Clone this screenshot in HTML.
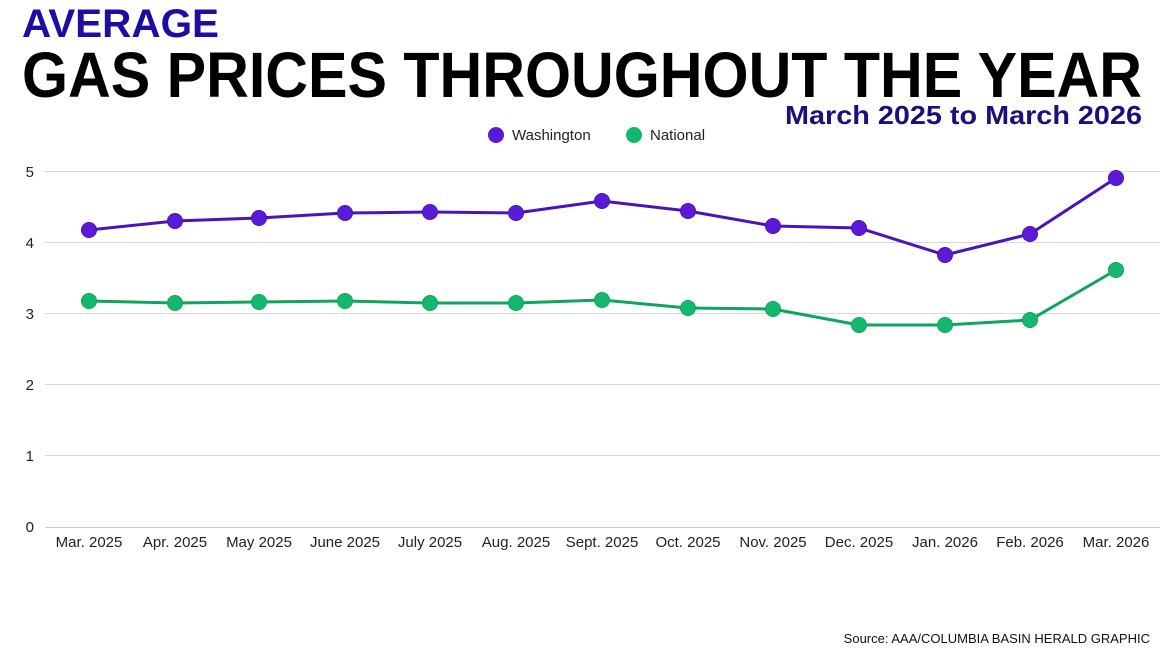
<!DOCTYPE html>
<html><head><meta charset="utf-8"><style>
html,body{margin:0;padding:0;background:#fff;}
svg{display:block;}
</style></head><body>
<svg width="1170" height="658" viewBox="0 0 1170 658" xmlns="http://www.w3.org/2000/svg" font-family="Liberation Sans, Arial, sans-serif">
<text x="22" y="37" font-size="40" font-weight="bold" fill="#1d0ea3" textLength="197" lengthAdjust="spacingAndGlyphs">AVERAGE</text>
<text x="22" y="97" font-size="64" font-weight="bold" fill="#000" textLength="1120" lengthAdjust="spacingAndGlyphs">GAS PRICES THROUGHOUT THE YEAR</text>
<text x="1142" y="124" font-size="26" font-weight="bold" fill="#1d0e7e" text-anchor="end" textLength="357" lengthAdjust="spacingAndGlyphs">March 2025 to March 2026</text>
<circle cx="496" cy="135" r="8" fill="#5b1ad8"/>
<text x="512" y="140" font-size="15" fill="#222">Washington</text>
<circle cx="634" cy="135" r="8" fill="#12b96c"/>
<text x="650" y="140" font-size="15" fill="#222">National</text>
<g stroke="#d9d9d9" stroke-width="1">
<line x1="45" x2="1160" y1="171.5" y2="171.5"/><line x1="45" x2="1160" y1="242.5" y2="242.5"/>
<line x1="45" x2="1160" y1="313.5" y2="313.5"/><line x1="45" x2="1160" y1="384.5" y2="384.5"/>
<line x1="45" x2="1160" y1="455.5" y2="455.5"/><line x1="45" x2="1160" y1="527.5" y2="527.5" stroke="#ccc"/>
</g>
<g font-size="15" fill="#222" text-anchor="end">
<text x="34" y="177">5</text><text x="34" y="248">4</text><text x="34" y="319">3</text>
<text x="34" y="390">2</text><text x="34" y="461">1</text><text x="34" y="532">0</text>
</g>
<g font-size="15" fill="#222" text-anchor="middle">
<text x="89" y="547">Mar. 2025</text><text x="175" y="547">Apr. 2025</text><text x="259" y="547">May 2025</text>
<text x="345" y="547">June 2025</text><text x="430" y="547">July 2025</text><text x="516" y="547">Aug. 2025</text>
<text x="602" y="547">Sept. 2025</text><text x="688" y="547">Oct. 2025</text><text x="773" y="547">Nov. 2025</text>
<text x="859" y="547">Dec. 2025</text><text x="945" y="547">Jan. 2026</text><text x="1030" y="547">Feb. 2026</text>
<text x="1116" y="547">Mar. 2026</text>
</g>
<polyline fill="none" stroke="#4a14b8" stroke-width="3" points="89,230 175,221 259,218 345,213 430,212 516,213 602,201 688,211 773,226 859,228 945,255 1030,234 1116,178"/>
<g fill="#5b1ad8" stroke="#4a14b8" stroke-width="1">
<circle cx="89" cy="230" r="7.5"/><circle cx="175" cy="221" r="7.5"/><circle cx="259" cy="218" r="7.5"/><circle cx="345" cy="213" r="7.5"/><circle cx="430" cy="212" r="7.5"/><circle cx="516" cy="213" r="7.5"/><circle cx="602" cy="201" r="7.5"/><circle cx="688" cy="211" r="7.5"/><circle cx="773" cy="226" r="7.5"/><circle cx="859" cy="228" r="7.5"/><circle cx="945" cy="255" r="7.5"/><circle cx="1030" cy="234" r="7.5"/><circle cx="1116" cy="178" r="7.5"/>
</g>
<polyline fill="none" stroke="#0fa55f" stroke-width="3" points="89,301 175,303 259,302 345,301 430,303 516,303 602,300 688,308 773,309 859,325 945,325 1030,320 1116,270"/>
<g fill="#12b96c" stroke="#0fa55f" stroke-width="1">
<circle cx="89" cy="301" r="7.5"/><circle cx="175" cy="303" r="7.5"/><circle cx="259" cy="302" r="7.5"/><circle cx="345" cy="301" r="7.5"/><circle cx="430" cy="303" r="7.5"/><circle cx="516" cy="303" r="7.5"/><circle cx="602" cy="300" r="7.5"/><circle cx="688" cy="308" r="7.5"/><circle cx="773" cy="309" r="7.5"/><circle cx="859" cy="325" r="7.5"/><circle cx="945" cy="325" r="7.5"/><circle cx="1030" cy="320" r="7.5"/><circle cx="1116" cy="270" r="7.5"/>
</g>
<text x="1150" y="643" font-size="13" fill="#111" text-anchor="end">Source: AAA/COLUMBIA BASIN HERALD GRAPHIC</text>
</svg>
</body></html>
